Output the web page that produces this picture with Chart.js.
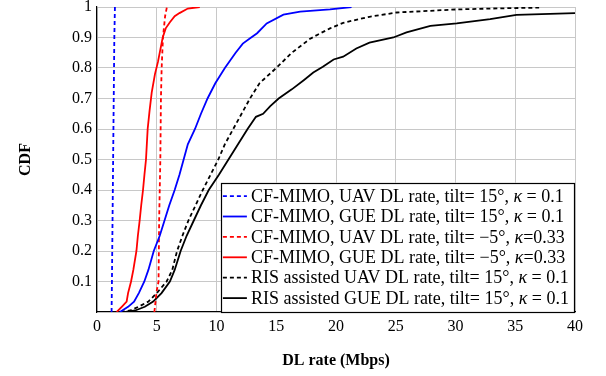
<!DOCTYPE html>
<html>
<head>
<meta charset="utf-8">
<script src="https://cdn.jsdelivr.net/npm/chart.js@4.4.1/dist/chart.umd.min.js"></script>
<style>
html,body{margin:0;padding:0;background:#fff;}
#wrap{width:606px;height:376px;}
</style>
</head>
<body>
<div id="wrap"><canvas id="c" width="606" height="376"></canvas></div>
<script>
// ---- data ----
const seriesLabels = [
  "CF-MIMO, UAV DL rate, tilt= 15°, κ = 0.1",
  "CF-MIMO, GUE DL rate, tilt= 15°, κ = 0.1",
  "CF-MIMO, UAV DL rate, tilt= −5°, κ=0.33",
  "CF-MIMO, GUE DL rate, tilt= −5°, κ=0.33",
  "RIS assisted UAV DL rate, tilt= 15°, κ = 0.1",
  "RIS assisted GUE DL rate, tilt= 15°, κ = 0.1"
];
const cfUavTilt15X = [1.22, 1.25, 1.3, 1.35, 1.4, 1.45, 1.5];
const cfUavTilt15Y = [0, 0.1, 0.3, 0.5, 0.7, 0.9, 1.0];

const cfGueTilt15X = [1.92, 2.6, 3.1, 3.5, 3.96, 4.3, 4.75, 5.25, 5.65, 6.05, 6.5, 6.9, 7.25, 7.6, 8.2, 8.7, 9.25, 9.9, 10.7, 11.6, 12.2, 12.9, 13.4, 14.2, 15.6, 17.0, 19.5, 21.3];
const cfGueTilt15Y = [0, 0.017, 0.034, 0.062, 0.1, 0.138, 0.2, 0.25, 0.3, 0.35, 0.4, 0.45, 0.5, 0.55, 0.6, 0.65, 0.7, 0.75, 0.8, 0.85, 0.88, 0.9, 0.914, 0.946, 0.975, 0.985, 0.992, 1.0];

const cfUavTiltM5X = [4.8, 5.0, 5.15, 5.2, 5.3, 5.35, 5.41, 5.52, 5.7, 5.85];
const cfUavTiltM5Y = [0, 0.07, 0.1, 0.3, 0.5, 0.7, 0.8, 0.9, 0.97, 1.0];

const cfGueTiltM5X = [1.65, 2.07, 2.48, 2.6, 2.85, 3.04, 3.3, 3.42, 3.57, 3.7, 3.85, 3.97, 4.1, 4.24, 4.4, 4.58, 4.85, 5.1, 5.3, 5.5, 5.75, 6.1, 6.5, 6.9, 7.6, 8.6];
const cfGueTiltM5Y = [0, 0.017, 0.034, 0.062, 0.1, 0.138, 0.2, 0.25, 0.3, 0.35, 0.4, 0.45, 0.5, 0.6, 0.66, 0.72, 0.78, 0.82, 0.86, 0.9, 0.93, 0.95, 0.97, 0.98, 0.995, 1.0];

const risUavX = [2.0, 2.8, 3.46, 4.3, 5.0, 5.83, 6.3, 6.7, 7.15, 7.65, 8.25, 8.85, 9.5, 10.15, 10.7, 11.4, 12.1, 12.8, 13.6, 15.0, 16.3, 17.3, 17.8, 18.5, 19.5, 20.6, 22.8, 25.1, 30.1, 33.0, 37.0];
const risUavY = [0, 0.005, 0.017, 0.034, 0.062, 0.1, 0.138, 0.2, 0.25, 0.3, 0.35, 0.4, 0.45, 0.5, 0.55, 0.6, 0.65, 0.7, 0.75, 0.8, 0.85, 0.88, 0.895, 0.91, 0.93, 0.948, 0.968, 0.982, 0.992, 0.995, 0.998];

const risGueX = [2.4, 3.2, 4.0, 4.7, 5.4, 6.1, 6.5, 7.0, 7.5, 8.1, 8.7, 9.35, 10.2, 11.0, 11.8, 12.6, 13.3, 13.9, 14.5, 15.2, 16.3, 17.3, 18.1, 18.9, 19.8, 20.6, 21.7, 22.8, 24.8, 25.9, 27.9, 30.1, 32.9, 35.1, 40.0];
const risGueY = [0, 0.005, 0.017, 0.034, 0.062, 0.1, 0.138, 0.2, 0.25, 0.3, 0.35, 0.4, 0.45, 0.5, 0.55, 0.6, 0.64, 0.65, 0.675, 0.7, 0.73, 0.76, 0.785, 0.804, 0.828, 0.837, 0.864, 0.883, 0.9, 0.917, 0.938, 0.946, 0.96, 0.974, 0.98];

const xTicks = [0, 5, 10, 15, 20, 25, 30, 35, 40];
const yTicks = [0.1, 0.2, 0.3, 0.4, 0.5, 0.6, 0.7, 0.8, 0.9, 1];
const xTitle = "DL rate (Mbps)";
const yTitle = "CDF";

// ---- build ----
function pts(xs, ys){ return xs.map((x,i)=>({x:x, y:ys[i]})); }
const seriesXY = [
  [cfUavTilt15X, cfUavTilt15Y], [cfGueTilt15X, cfGueTilt15Y],
  [cfUavTiltM5X, cfUavTiltM5Y], [cfGueTiltM5X, cfGueTiltM5Y],
  [risUavX, risUavY], [risGueX, risGueY]
];
const colors = ['#0000ff','#0000ff','#ff0000','#ff0000','#000000','#000000'];
const dashes = [[4,3],[],[4,3],[],[4,3],[]];

const SERIF = '"Liberation Serif", "DejaVu Serif", serif';
const LEG_SIZE = 18;

const datasets = seriesXY.map((s,i)=>({
  label: seriesLabels[i],
  data: pts(s[0], s[1]),
  borderColor: colors[i],
  backgroundColor: colors[i],
  borderDash: dashes[i],
  borderWidth: 1.8,
  pointRadius: 0,
  showLine: true,
  tension: 0,
  fill: false
}));

function labelParts(text){ return text.split('κ'); }
function drawLabel(ctx, text, x, y){
  const parts = labelParts(text);
  let cx = x;
  for (let i=0;i<parts.length;i++){
    ctx.font = LEG_SIZE + 'px ' + SERIF;
    ctx.fillText(parts[i], cx, y);
    cx += ctx.measureText(parts[i]).width;
    if (i < parts.length-1){
      ctx.font = 'italic ' + LEG_SIZE + 'px ' + SERIF;
      ctx.fillText('κ', cx, y);
      cx += ctx.measureText('κ').width;
    }
  }
  return cx - x;
}
function measureLabel(ctx, text){
  const parts = labelParts(text);
  let w = 0;
  for (let i=0;i<parts.length;i++){
    ctx.font = LEG_SIZE + 'px ' + SERIF;
    w += ctx.measureText(parts[i]).width;
    if (i < parts.length-1){
      ctx.font = 'italic ' + LEG_SIZE + 'px ' + SERIF;
      w += ctx.measureText('κ').width;
    }
  }
  return w;
}

const legendPlugin = {
  id: 'insideLegend',
  afterDatasetsDraw(chart){
    const ctx = chart.ctx, a = chart.chartArea;
    ctx.save();
    let maxW = 0;
    seriesLabels.forEach(l=>{ maxW = Math.max(maxW, measureLabel(ctx, l)); });
    const rowH = 20.4, padL = 2, sample = 24, gap = 4, padR = 6;
    const w = padL + sample + gap + maxW + padR;
    const h = rowH * seriesLabels.length + 8;
    const right = a.right, bottom = a.bottom + 1;
    const left = right - w, top = bottom - h;
    ctx.fillStyle = '#fff';
    ctx.fillRect(left, top, w, h);
    ctx.strokeStyle = '#000';
    ctx.lineWidth = 1.2;
    ctx.strokeRect(Math.round(left)+0.5, Math.round(top)+0.5, Math.round(w)-1, Math.round(h)-1);
    chart.data.datasets.forEach((ds,i)=>{
      const y = top + 13.5 + i*rowH;
      ctx.beginPath();
      ctx.setLineDash(ds.borderDash || []);
      ctx.strokeStyle = ds.borderColor;
      ctx.lineWidth = 1.8;
      ctx.moveTo(left + padL, y);
      ctx.lineTo(left + padL + sample, y);
      ctx.stroke();
      ctx.setLineDash([]);
      ctx.fillStyle = '#000';
      ctx.textBaseline = 'middle';
      ctx.textAlign = 'left';
      drawLabel(ctx, seriesLabels[i], left + padL + sample + gap, y + 1);
    });
    ctx.restore();
  }
};

new Chart(document.getElementById('c'), {
  type: 'scatter',
  data: { datasets },
  plugins: [legendPlugin],
  options: {
    responsive: false,
    animation: false,
    devicePixelRatio: 1,
    layout: { padding: { left: 0, right: 31, top: 7, bottom: 0 } },
    plugins: { legend: { display: false }, tooltip: { enabled: false } },
    scales: {
      x: {
        type: 'linear', min: 0, max: 40,
        afterBuildTicks(scale){ scale.ticks = xTicks.map(v=>({value:v})); },
        ticks: { color: '#000', font: { family: SERIF, size: 16 }, padding: 5, maxRotation: 0 },
        grid: { color: '#c8c8c8', lineWidth: 1, drawTicks: false },
        border: { color: '#000', width: 1.2 },
        title: { display: true, text: xTitle, color: '#000', font: { family: SERIF, size: 16, weight: 'bold' }, padding: { top: 10, bottom: 6 } },
        afterFit(scale){ scale.height = 64; scale.paddingLeft = 0; scale.paddingRight = 0; }
      },
      y: {
        type: 'linear', min: 0, max: 1,
        afterBuildTicks(scale){ scale.ticks = yTicks.map(v=>({value:v})); },
        ticks: { color: '#000', font: { family: SERIF, size: 16 }, padding: 5, callback: v => String(v) },
        grid: { color: '#c8c8c8', lineWidth: 1, drawTicks: false },
        border: { color: '#000', width: 1.2 },
        title: { display: true, text: yTitle, color: '#000', font: { family: SERIF, size: 16, weight: 'bold' }, padding: { top: 16, bottom: 0 } },
        afterFit(scale){ scale.width = 97; scale.paddingTop = 0; scale.paddingBottom = 0; }
      }
    }
  }
});
</script>
</body>
</html>
